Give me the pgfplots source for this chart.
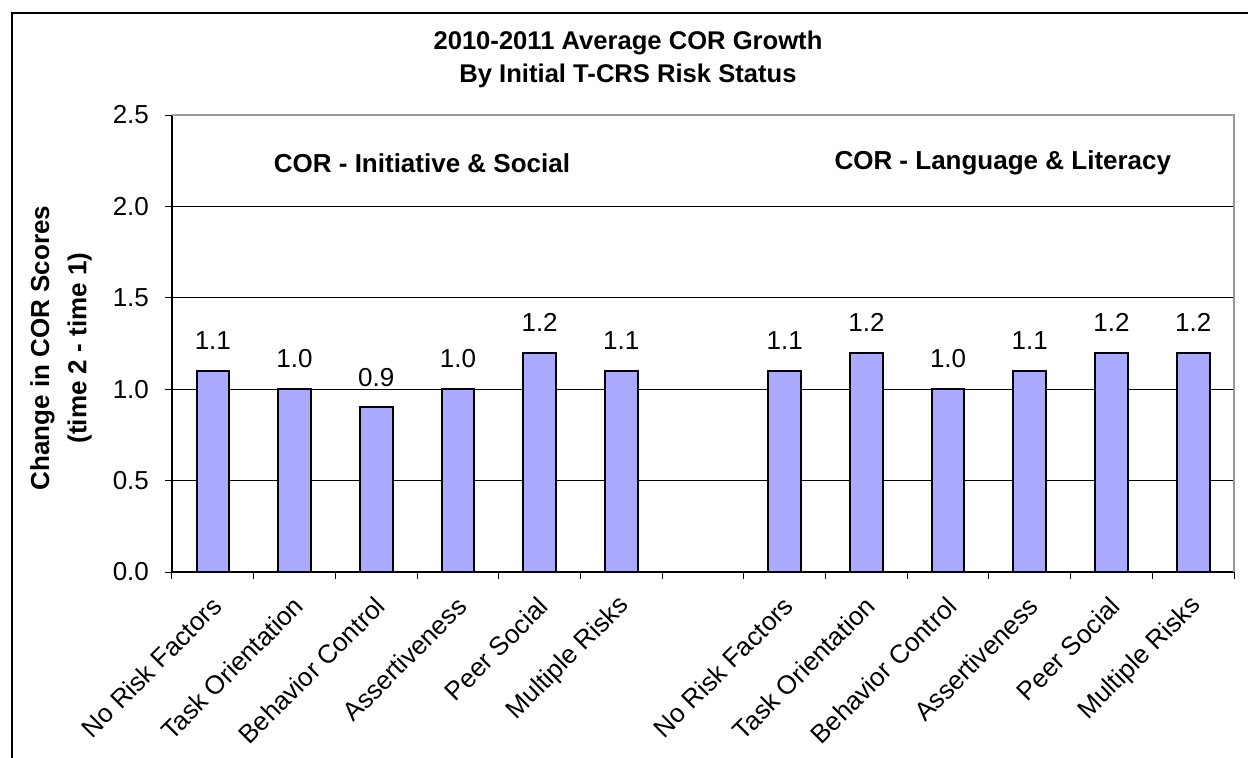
\documentclass[border=0pt]{standalone}
\usepackage{pgfplots}
\pgfplotsset{compat=1.18}
\usepackage{fontspec}
\setmainfont{Liberation Sans}
\definecolor{barfill}{HTML}{AAAAFF}
\newcommand{\fs}{\fontsize{13}{15.6}\selectfont}
\newcommand{\fst}{\fontsize{12.8}{15.4}\selectfont}
\begin{document}
\begin{tikzpicture}
\useasboundingbox (-86pt,-92.5pt) rectangle (538pt,286pt);
\draw[line width=0.6pt] (-80pt,-100pt) -- (-80pt,279.5pt) -- (560pt,279.5pt);
\begin{axis}[
  at={(0pt,0pt)}, anchor=south west,
  scale only axis, width=531pt, height=228.5pt,
  xmin=-0.5, xmax=12.5, ymin=0, ymax=2.5,
  axis lines*=left, axis line style={-, black, line width=0.6pt},
  tick align=outside, major tick length=3.5pt,
  xtick={-0.5,0.5,1.5,2.5,3.5,4.5,5.5,6.5,7.5,8.5,9.5,10.5,11.5,12.5},
  xticklabels={},
  extra x ticks={0,1,2,3,4,5,7,8,9,10,11,12},
  extra x tick labels={No Risk Factors,Task Orientation,Behavior Control,Assertiveness,Peer Social,Multiple Risks,No Risk Factors,Task Orientation,Behavior Control,Assertiveness,Peer Social,Multiple Risks},
  extra x tick style={major tick length=0pt, grid=none},
  xticklabel style={font=\fs, rotate=45, anchor=east, inner sep=0pt, xshift=-9pt, yshift=-11.9pt},
  tick style={black, line width=0.5pt},
  ytick={0,0.5,1,1.5,2,2.5},
  yticklabel style={font=\fs, xshift=-4.5pt, /pgf/number format/fixed, /pgf/number format/fixed zerofill, /pgf/number format/precision=1, /pgf/number format/assume math mode=true},
  ymajorgrids, grid style={black, line width=0.5pt},
  bar width=0.4,
  nodes near coords,
  nodes near coords style={font=\fs, anchor=south, inner sep=0pt, yshift=10pt, /pgf/number format/fixed, /pgf/number format/fixed zerofill, /pgf/number format/precision=1, /pgf/number format/assume math mode=true},
  clip=false,
]
\addplot[ybar, fill=barfill, draw=black, line width=1pt] coordinates {(0,1.1) (1,1.0) (2,0.9) (3,1.0) (4,1.2) (5,1.1)};
\addplot[ybar, fill=barfill, draw=black, line width=1pt] coordinates {(7,1.1) (8,1.2) (9,1.0) (10,1.1) (11,1.2) (12,1.2)};
\draw[gray!80, line width=0.8pt] (rel axis cs:0,1) -- (rel axis cs:1,1) -- (rel axis cs:1,0);
\node[font=\fs\bfseries] at (axis cs:2.56,2.237) {COR - Initiative \& Social};
\node[font=\fs\bfseries] at (axis cs:9.67,2.237) {COR - Language \& Literacy};
\end{axis}
\node[font=\fst\bfseries, align=center] at (228pt,256.25pt) {2010-2011 Average COR Growth\\[1pt]By Initial T-CRS Risk Status};
\node[font=\fs\bfseries, align=center, rotate=90] at (-55.5pt,112pt) {Change in COR Scores\\[3pt](time 2 - time 1)};
\end{tikzpicture}
\end{document}
